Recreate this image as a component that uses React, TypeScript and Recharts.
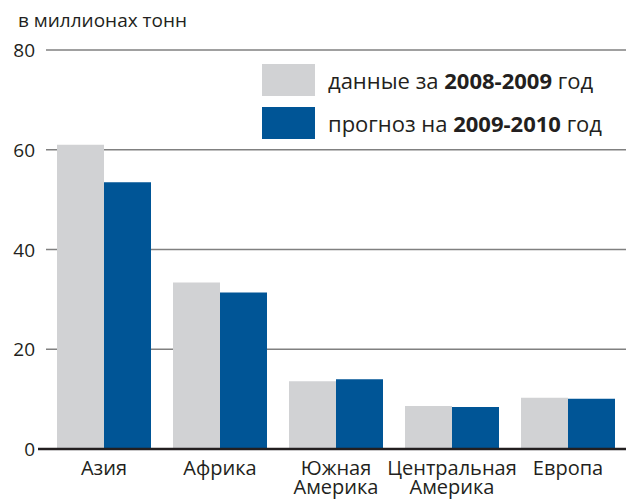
import React from "react";
import { BarChart, Bar, XAxis, YAxis, CartesianGrid, ReferenceLine } from "recharts";

const categories = ["Азия", "Африка", "Южная Америка", "Центральная Америка", "Европа"];
const actual20082009 = [61, 33.4, 13.6, 8.6, 10.3];
const forecast20092010 = [53.5, 31.4, 14.0, 8.4, 10.1];
const yTicks = [0, 20, 40, 60, 80];

const data = categories.map((c, i) => ({
  name: c,
  a: actual20082009[i],
  b: forecast20092010[i],
}));

const FONT = "'Open Sans', 'Noto Sans', sans-serif";
const GRAY = "#d1d2d4";
const BLUE = "#005596";
const TEXT = "#231f20";

const XTick = (props: any) => {
  const { x, payload } = props;
  const parts = String(payload.value).split(" ");
  return (
    <text x={x} y={475} textAnchor="middle" fontFamily={FONT} fontSize={20} fill={TEXT}>
      {parts.map((p: string, i: number) => (
        <tspan key={i} x={x} dy={i === 0 ? 0 : 18.5}>
          {p}
        </tspan>
      ))}
    </text>
  );
};

const YTick = (props: any) => {
  const { y, payload } = props;
  return (
    <text x={35} y={y + 7} textAnchor="end" fontFamily={FONT} fontSize={19} fill={TEXT}>
      {payload.value}
    </text>
  );
};

const LegendBox = () => (
  <div
    style={{
      position: "absolute",
      left: 262,
      top: 64,
      fontFamily: FONT,
      fontSize: 22,
      color: TEXT,
      whiteSpace: "nowrap",
    }}
  >
    <div style={{ display: "flex", alignItems: "center", height: 32, marginBottom: 11 }}>
      <div style={{ width: 53, height: 32, background: GRAY, marginRight: 13 }} />
      <span>
        данные за <b>2008-2009</b> год
      </span>
    </div>
    <div style={{ display: "flex", alignItems: "center", height: 32 }}>
      <div style={{ width: 53, height: 32, background: BLUE, marginRight: 13 }} />
      <span>
        прогноз на <b>2009-2010</b> год
      </span>
    </div>
  </div>
);

const AxisLineShape = (props: any) => {
  const { x1, y1, x2, y2 } = props;
  return <line x1={x1 - 8} y1={y1} x2={x2} y2={y2} stroke="#231f20" strokeWidth={2.5} />;
};

export default function App() {
  return (
    <div style={{ position: "absolute", left: 0, top: 0, width: 626, height: 499, background: "#fff" }}>
      <BarChart
        width={626}
        height={499}
        data={data}
        margin={{ top: 50, right: 0, left: 0, bottom: 0 }}
        barCategoryGap={11}
        barGap={0}
      >
        <CartesianGrid vertical={false} stroke="#808080" strokeWidth={1.3} />
        <XAxis
          dataKey="name"
          height={50}
          axisLine={false}
          tickLine={false}
          tick={<XTick />}
          interval={0}
        />
        <YAxis
          width={46}
          domain={[0, 80]}
          ticks={yTicks}
          axisLine={false}
          tickLine={false}
          tick={<YTick />}
        />
        <Bar dataKey="a" fill={GRAY} isAnimationActive={false} />
        <Bar dataKey="b" fill={BLUE} isAnimationActive={false} />
        <ReferenceLine y={0} shape={<AxisLineShape />} />
      </BarChart>
      <div
        style={{
          position: "absolute",
          left: 18,
          top: 7,
          fontFamily: FONT,
          fontSize: 19,
          color: TEXT,
          whiteSpace: "nowrap",
        }}
      >
        в миллионах тонн
      </div>
      <LegendBox />
    </div>
  );
}
